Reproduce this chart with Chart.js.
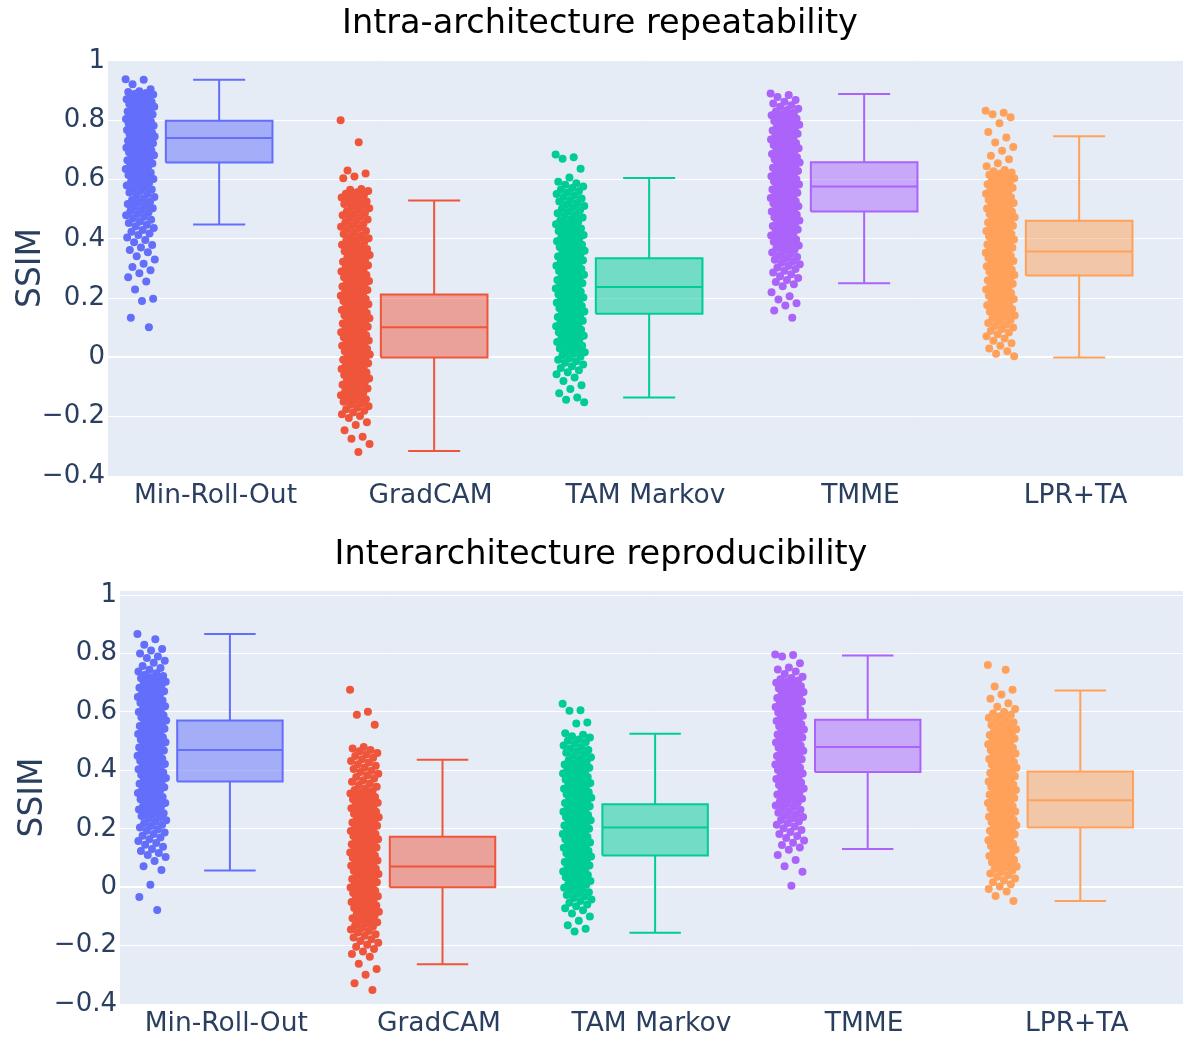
<!DOCTYPE html>
<html>
<head>
<meta charset="utf-8">
<title>SSIM repeatability and reproducibility</title>
<script src="https://cdn.jsdelivr.net/npm/chart.js@4.4.1/dist/chart.umd.min.js"></script>
<style>
  html, body { margin: 0; padding: 0; background: #ffffff; }
  #wrap { position: relative; width: 1187px; height: 1039px; overflow: hidden; }
  .panel { position: absolute; left: 0; }
  #panelTop { top: 0; }
  #panelBottom { top: 531px; }
</style>
</head>
<body>
<div id="wrap">
  <div class="panel" id="panelTop"><canvas id="chartIntra" width="1187" height="531"></canvas></div>
  <div class="panel" id="panelBottom"><canvas id="chartInter" width="1187" height="508"></canvas></div>
</div>
<script>
// SSIM of explanation maps per method: a box (whiskers, quartiles, median)
// with the individual samples scattered beside it.
const categories = ['Min-Roll-Out', 'GradCAM', 'TAM Markov', 'TMME', 'LPR+TA'];
const yTickValues = [-0.4, -0.2, 0, 0.2, 0.4, 0.6, 0.8, 1];

// Intra-architecture repeatability: box statistics
const intraLow    = [0.448, -0.316, -0.135, 0.250, 0.000];
const intraQ1     = [0.657,  0.000,  0.147, 0.492, 0.276];
const intraMedian = [0.740,  0.102,  0.237, 0.576, 0.357];
const intraQ3     = [0.798,  0.212,  0.334, 0.658, 0.461];
const intraHigh   = [0.936,  0.529,  0.605, 0.888, 0.746];

// Interarchitecture reproducibility: box statistics
const interLow    = [0.057, -0.264, -0.156, 0.131, -0.047];
const interQ1     = [0.362,  0.000,  0.108, 0.394,  0.204];
const interMedian = [0.470,  0.071,  0.204, 0.480,  0.298];
const interQ3     = [0.571,  0.173,  0.284, 0.573,  0.396];
const interHigh   = [0.867,  0.436,  0.525, 0.793,  0.673];

// Intra-architecture samples
const intraMinRollOut = [.938,.936,.921,.904,.898,.895,.892,.889,.887,.883,.88,.878,.874,.871,.867,.865,.861,.857,.855,.852,.848,.845,.842,.838,.836,.832,.829,.826,.823,.819,.817,.813,.81,.807,.804,.801,.798,.795,.792,.789,.786,.783,.781,.778,.775,.772,.769,.767,.764,.761,.758,.756,.753,.75,.747,.745,.742,.739,.736,.733,.731,.728,.725,.722,.719,.716,.713,.71,.707,.704,.701,.698,.695,.692,.688,.685,.682,.678,.675,.672,.668,.665,.661,.657,.654,.65,.646,.643,.639,.635,.631,.627,.623,.619,.615,.611,.606,.602,.598,.593,.589,.584,.58,.575,.57,.566,.561,.556,.551,.546,.541,.536,.531,.526,.522,.517,.512,.508,.503,.498,.494,.489,.484,.479,.474,.469,.464,.458,.453,.447,.442,.436,.43,.424,.418,.413,.404,.396,.388,.379,.371,.362,.355,.341,.33,.316,.305,.294,.284,.27,.256,.229,.198,.19,.134,.102];
const intraGradCAM = [.8,.726,.63,.62,.61,.604,.568,.565,.561,.557,.552,.548,.544,.539,.535,.53,.526,.521,.517,.512,.507,.503,.498,.493,.488,.484,.479,.474,.469,.465,.46,.455,.45,.446,.441,.436,.431,.426,.421,.416,.411,.407,.402,.398,.393,.389,.384,.38,.375,.371,.366,.362,.358,.353,.349,.345,.34,.336,.332,.328,.323,.319,.315,.311,.307,.303,.299,.294,.29,.286,.282,.278,.274,.27,.266,.262,.258,.254,.25,.247,.243,.239,.235,.231,.227,.223,.22,.216,.212,.208,.205,.201,.197,.193,.19,.186,.182,.179,.175,.171,.168,.164,.16,.157,.153,.15,.146,.142,.139,.135,.132,.128,.124,.121,.117,.114,.11,.107,.103,.1,.096,.092,.089,.085,.082,.078,.075,.071,.068,.064,.06,.057,.053,.05,.046,.043,.039,.035,.032,.028,.025,.021,.017,.014,.01,.006,.003,-.001,-.005,-.008,-.012,-.016,-.02,-.023,-.027,-.031,-.035,-.039,-.043,-.047,-.051,-.055,-.059,-.063,-.067,-.071,-.075,-.079,-.083,-.088,-.092,-.096,-.101,-.105,-.11,-.114,-.119,-.124,-.128,-.132,-.137,-.141,-.146,-.15,-.155,-.16,-.165,-.17,-.175,-.18,-.186,-.192,-.198,-.204,-.219,-.228,-.246,-.268,-.274,-.292,-.319];
const intraTamMarkov = [.684,.675,.67,.636,.607,.592,.587,.582,.576,.571,.566,.561,.556,.551,.546,.541,.536,.531,.526,.521,.516,.511,.506,.501,.496,.491,.486,.481,.477,.472,.467,.462,.458,.453,.449,.444,.44,.435,.431,.426,.422,.418,.413,.409,.405,.401,.397,.392,.388,.384,.38,.376,.372,.368,.364,.36,.356,.352,.348,.344,.34,.336,.332,.328,.325,.321,.317,.313,.309,.306,.302,.298,.294,.291,.287,.283,.279,.276,.272,.268,.265,.261,.257,.254,.25,.246,.243,.239,.235,.232,.228,.224,.221,.217,.213,.21,.206,.202,.199,.195,.191,.188,.184,.18,.177,.173,.169,.166,.162,.158,.155,.151,.147,.143,.14,.136,.132,.128,.124,.12,.117,.113,.109,.105,.101,.097,.093,.089,.085,.081,.077,.073,.069,.065,.061,.056,.052,.048,.044,.039,.035,.03,.026,.021,.017,.012,.007,.002,-.003,-.008,-.013,-.018,-.024,-.03,-.036,-.043,-.05,-.057,-.068,-.08,-.094,-.107,-.121,-.135,-.143,-.151];
const intraTmme = [.89,.885,.878,.868,.862,.856,.85,.845,.839,.834,.829,.825,.821,.817,.813,.809,.805,.801,.797,.793,.789,.785,.781,.777,.773,.769,.765,.761,.757,.754,.75,.746,.742,.738,.735,.731,.727,.723,.72,.716,.712,.708,.705,.701,.697,.694,.69,.686,.683,.679,.675,.672,.668,.665,.661,.657,.654,.65,.647,.643,.64,.636,.632,.629,.625,.622,.618,.615,.611,.608,.604,.601,.597,.594,.59,.587,.583,.58,.576,.573,.569,.566,.562,.559,.555,.552,.548,.545,.541,.538,.534,.531,.527,.524,.52,.517,.513,.51,.506,.502,.499,.495,.492,.488,.484,.481,.477,.473,.47,.466,.462,.458,.455,.451,.447,.443,.439,.435,.431,.427,.423,.419,.415,.411,.407,.403,.398,.394,.39,.386,.381,.377,.372,.368,.363,.359,.354,.349,.344,.339,.334,.329,.324,.319,.314,.309,.303,.298,.292,.286,.28,.274,.268,.261,.254,.247,.24,.22,.206,.195,.183,.175,.158,.134];
const intraLprTa = [.832,.825,.82,.81,.79,.76,.742,.725,.71,.697,.68,.668,.655,.645,.632,.628,.624,.62,.616,.612,.608,.604,.6,.596,.592,.588,.584,.58,.576,.572,.568,.564,.56,.556,.552,.548,.544,.54,.536,.532,.529,.525,.521,.517,.513,.51,.506,.502,.498,.495,.491,.487,.484,.48,.476,.473,.469,.465,.462,.458,.455,.451,.447,.444,.44,.437,.433,.43,.426,.423,.419,.416,.412,.409,.405,.402,.398,.395,.391,.388,.384,.381,.377,.374,.37,.367,.363,.36,.356,.353,.349,.346,.342,.339,.335,.332,.328,.325,.321,.318,.314,.311,.307,.303,.3,.296,.293,.289,.285,.282,.278,.274,.271,.267,.263,.26,.256,.252,.248,.245,.241,.237,.233,.229,.225,.221,.217,.213,.209,.205,.201,.197,.193,.189,.185,.181,.176,.172,.168,.163,.159,.154,.15,.145,.141,.136,.131,.126,.121,.116,.111,.106,.101,.096,.09,.084,.078,.071,.064,.056,.048,.039,.03,.021,.012,.004];

// Interarchitecture samples
const interMinRollOut = [.867,.849,.83,.815,.81,.8,.79,.785,.775,.768,.757,.75,.744,.738,.732,.727,.723,.719,.715,.711,.707,.703,.699,.695,.691,.687,.683,.679,.675,.671,.667,.663,.659,.655,.651,.647,.643,.639,.635,.631,.627,.623,.619,.616,.612,.608,.604,.6,.597,.593,.589,.585,.582,.578,.574,.571,.567,.563,.56,.556,.552,.549,.545,.542,.538,.534,.531,.527,.524,.52,.517,.513,.51,.506,.503,.499,.496,.492,.489,.485,.482,.478,.475,.471,.468,.464,.461,.457,.454,.45,.447,.443,.44,.436,.433,.429,.425,.422,.418,.415,.411,.407,.404,.4,.396,.393,.389,.385,.381,.377,.374,.37,.366,.362,.358,.354,.35,.346,.342,.338,.334,.33,.326,.322,.318,.314,.309,.305,.301,.297,.292,.288,.284,.279,.275,.271,.266,.262,.257,.253,.248,.244,.239,.234,.229,.224,.219,.214,.209,.204,.198,.193,.187,.182,.176,.17,.164,.158,.151,.145,.138,.131,.124,.117,.11,.103,.09,.072,.059,.008,-.034,-.078];
const interGradCAM = [.676,.601,.59,.556,.48,.475,.47,.465,.459,.454,.449,.443,.438,.432,.427,.421,.416,.41,.405,.399,.394,.388,.383,.377,.372,.366,.361,.355,.35,.344,.339,.333,.329,.325,.321,.317,.313,.309,.305,.301,.297,.293,.289,.285,.281,.277,.273,.27,.266,.262,.258,.254,.251,.247,.243,.239,.236,.232,.228,.225,.221,.217,.214,.21,.207,.203,.199,.196,.192,.189,.185,.182,.178,.175,.171,.168,.164,.161,.157,.154,.15,.147,.143,.14,.136,.133,.129,.126,.122,.119,.115,.112,.108,.105,.101,.098,.094,.091,.087,.084,.08,.077,.073,.07,.066,.063,.059,.056,.052,.049,.045,.042,.038,.035,.031,.028,.024,.021,.017,.013,.01,.006,.003,-.001,-.005,-.008,-.012,-.016,-.02,-.023,-.027,-.031,-.035,-.039,-.043,-.047,-.051,-.055,-.059,-.063,-.067,-.071,-.075,-.08,-.084,-.088,-.093,-.097,-.102,-.106,-.111,-.116,-.12,-.125,-.13,-.135,-.14,-.145,-.15,-.155,-.161,-.166,-.172,-.178,-.184,-.19,-.197,-.204,-.212,-.22,-.229,-.238,-.262,-.28,-.3,-.329,-.352];
const interTamMarkov = [.628,.606,.604,.564,.56,.527,.522,.517,.512,.506,.501,.496,.491,.485,.48,.475,.47,.465,.46,.455,.45,.445,.44,.435,.43,.425,.42,.416,.413,.409,.405,.401,.397,.393,.389,.385,.381,.377,.373,.369,.365,.361,.357,.353,.349,.345,.341,.337,.333,.329,.325,.322,.318,.314,.31,.306,.303,.299,.295,.291,.288,.284,.28,.277,.273,.269,.266,.262,.258,.255,.251,.247,.244,.24,.236,.233,.229,.226,.222,.218,.215,.211,.208,.204,.2,.197,.193,.19,.186,.182,.179,.175,.172,.168,.164,.161,.157,.153,.15,.146,.142,.139,.135,.131,.128,.124,.12,.116,.113,.109,.105,.101,.098,.094,.09,.086,.082,.078,.074,.07,.066,.062,.058,.054,.05,.046,.042,.038,.034,.03,.025,.021,.017,.012,.008,.003,-.002,-.007,-.012,-.017,-.022,-.027,-.032,-.037,-.042,-.047,-.053,-.059,-.065,-.072,-.079,-.09,-.1,-.115,-.13,-.142,-.152];
const interTmme = [.797,.795,.79,.767,.752,.745,.738,.73,.72,.716,.712,.708,.704,.7,.696,.692,.688,.684,.68,.676,.672,.668,.664,.66,.656,.652,.648,.644,.64,.636,.632,.628,.625,.621,.617,.613,.609,.606,.602,.598,.594,.591,.587,.583,.58,.576,.572,.569,.565,.562,.558,.554,.551,.547,.544,.54,.537,.533,.53,.526,.523,.519,.516,.512,.509,.505,.502,.498,.495,.491,.488,.484,.481,.477,.474,.47,.467,.463,.46,.456,.452,.449,.445,.442,.438,.434,.431,.427,.423,.42,.416,.412,.409,.405,.401,.397,.393,.389,.386,.382,.378,.374,.37,.366,.362,.358,.354,.35,.346,.342,.338,.334,.329,.325,.321,.317,.312,.308,.303,.299,.294,.29,.285,.28,.275,.27,.265,.26,.255,.25,.245,.24,.235,.23,.225,.22,.214,.208,.202,.196,.189,.182,.175,.168,.16,.152,.144,.136,.128,.11,.093,.072,.053,.005];
const interLprTa = [.761,.744,.687,.676,.66,.645,.63,.618,.61,.6,.595,.59,.585,.58,.575,.57,.565,.56,.555,.549,.545,.541,.537,.533,.529,.525,.521,.517,.513,.509,.505,.501,.497,.493,.489,.485,.481,.477,.473,.469,.466,.462,.458,.454,.45,.446,.443,.439,.435,.431,.428,.424,.42,.416,.413,.409,.405,.402,.398,.394,.391,.387,.383,.38,.376,.373,.369,.365,.362,.358,.355,.351,.348,.344,.34,.337,.333,.33,.326,.323,.319,.316,.312,.309,.305,.302,.298,.295,.291,.288,.284,.281,.277,.274,.27,.266,.263,.259,.256,.252,.249,.245,.241,.238,.234,.23,.227,.223,.219,.216,.212,.208,.204,.201,.197,.193,.189,.185,.181,.177,.173,.169,.165,.161,.157,.153,.149,.145,.141,.137,.133,.129,.124,.12,.116,.112,.107,.103,.099,.094,.09,.085,.081,.076,.071,.067,.062,.057,.052,.047,.042,.036,.03,.024,.017,.01,.002,-.006,-.015,-.03,-.047];

const intraSamples = [intraMinRollOut, intraGradCAM, intraTamMarkov, intraTmme, intraLprTa];
const interSamples = [interMinRollOut, interGradCAM, interTamMarkov, interTmme, interLprTa];

const COLORS = ['#636efa', '#EF553B', '#00cc96', '#ab63fa', '#FFA15A'];
const FONT = "'DejaVu Sans', Verdana, sans-serif";
const GOLDEN = 0.6180339887;

// placement of the marks inside one category slot (category width = 1)
const SLOT = {
  boxOffset: 0.017,    // box centre relative to category
  boxHalf: 0.248,      // half box width
  capHalf: 0.121,      // half whisker-cap width
  cloudOffset: -0.350, // centre of the sample strip
  cloudWidth: 0.136    // horizontal spread of the sample strip
};

function rgba(hex, a) {
  const n = parseInt(hex.slice(1), 16);
  return `rgba(${(n >> 16) & 255}, ${(n >> 8) & 255}, ${n & 255}, ${a})`;
}

function tickText(v) {
  if (v === 0) return '0';
  if (v === 1) return '1';
  return (v < 0 ? '\u2212' : '') + Math.abs(v).toFixed(1);
}

const plotBackground = {
  id: 'plotBackground',
  beforeDraw(chart) {
    const { ctx, chartArea: a } = chart;
    ctx.save();
    ctx.fillStyle = '#E5ECF6';
    ctx.fillRect(a.left, a.top, a.right - a.left, a.bottom - a.top);
    ctx.restore();
  }
};

function buildDatasets(samples, low, q1, med, q3, high) {
  const sets = [];
  categories.forEach((name, i) => {
    const c = COLORS[i];
    const cx = i + SLOT.boxOffset;
    const L = cx - SLOT.boxHalf, R = cx + SLOT.boxHalf;
    const cL = cx - SLOT.capHalf, cR = cx + SLOT.capHalf;

    // individual samples, spread sideways within the strip
    sets.push({
      type: 'scatter',
      label: name + ' samples',
      data: samples[i].map((v, k) => ({
        x: i + SLOT.cloudOffset + (((k * GOLDEN) % 1) - 0.5) * SLOT.cloudWidth,
        y: v
      })),
      backgroundColor: c,
      pointRadius: 4,
      pointBorderWidth: 0,
      borderWidth: 0,
      order: 3
    });

    // box body between the quartiles
    sets.push({
      type: 'line',
      label: name + ' box',
      data: [{ x: L, y: q3[i] }, { x: R, y: q3[i] }],
      fill: { value: q1[i] },
      backgroundColor: rgba(c, 0.5),
      borderColor: 'rgba(0,0,0,0)',
      borderWidth: 1,
      pointRadius: 0,
      order: 2
    });

    // outline, median, whiskers and caps
    sets.push({
      type: 'line',
      label: name + ' outline',
      data: [
        { x: L, y: q1[i] }, { x: L, y: q3[i] }, { x: R, y: q3[i] }, { x: R, y: q1[i] }, { x: L, y: q1[i] },
        { x: L, y: null },
        { x: L, y: med[i] }, { x: R, y: med[i] },
        { x: R, y: null },
        { x: cx, y: q3[i] }, { x: cx, y: high[i] },
        { x: cx, y: null },
        { x: cL, y: high[i] }, { x: cR, y: high[i] },
        { x: cR, y: null },
        { x: cx, y: q1[i] }, { x: cx, y: low[i] },
        { x: cx, y: null },
        { x: cL, y: low[i] }, { x: cR, y: low[i] }
      ],
      borderColor: c,
      borderWidth: 2,
      borderJoinStyle: 'miter',
      pointRadius: 0,
      fill: false,
      spanGaps: false,
      order: 1
    });
  });
  return sets;
}

function makeChart(canvasId, titleText, datasets, geo) {
  return new Chart(document.getElementById(canvasId), {
    type: 'scatter',
    data: { datasets },
    plugins: [plotBackground],
    options: {
      responsive: false,
      animation: false,
      devicePixelRatio: 1,
      events: [],
      layout: { padding: { left: geo.padLeft, right: 1, top: 0, bottom: 0 } },
      plugins: {
        legend: { display: false },
        tooltip: { enabled: false },
        title: {
          display: true,
          text: titleText,
          color: '#000000',
          font: { family: FONT, size: 33.5, weight: 'normal', lineHeight: 1.2 },
          padding: { top: 4.5, bottom: 15.3 }
        }
      },
      scales: {
        x: {
          type: 'linear',
          min: -0.5,
          max: categories.length - 0.5,
          afterBuildTicks: ax => { ax.ticks = categories.map((_, i) => ({ value: i })); },
          afterFit: ax => { ax.height = geo.xAxisHeight; },
          grid: { display: false, drawTicks: false },
          border: { display: false },
          ticks: {
            autoSkip: false,
            maxRotation: 0,
            padding: 4,
            color: '#2a3f5f',
            font: { family: FONT, size: 26.5 },
            callback: v => categories[v]
          }
        },
        y: {
          min: -0.4,
          max: geo.yMax,
          afterBuildTicks: ax => { ax.ticks = yTickValues.map(v => ({ value: v })); },
          afterFit: ax => { ax.width = geo.yAxisWidth; },
          grid: {
            drawTicks: false,
            color: ctx => (ctx.tick && ctx.tick.value === -0.4) ? 'rgba(0,0,0,0)' : '#ffffff',
            lineWidth: ctx => (ctx.tick && ctx.tick.value === 0) ? 2 : 1
          },
          border: { display: false },
          ticks: {
            padding: 3,
            color: '#2a3f5f',
            font: { family: FONT, size: 26 },
            callback: v => tickText(v)
          },
          title: {
            display: true,
            text: 'SSIM',
            color: '#2a3f5f',
            font: { family: FONT, size: 33, lineHeight: 1.05 },
            padding: { top: 0, bottom: 0 }
          }
        }
      }
    }
  });
}

makeChart('chartIntra', 'Intra-architecture repeatability',
  buildDatasets(intraSamples, intraLow, intraQ1, intraMedian, intraQ3, intraHigh),
  { padLeft: 14, yAxisWidth: 94, xAxisHeight: 55, yMax: 1.003 });

makeChart('chartInter', 'Interarchitecture reproducibility',
  buildDatasets(interSamples, interLow, interQ1, interMedian, interQ3, interHigh),
  { padLeft: 16, yAxisWidth: 104, xAxisHeight: 35, yMax: 1.014 });
</script>
</body>
</html>
